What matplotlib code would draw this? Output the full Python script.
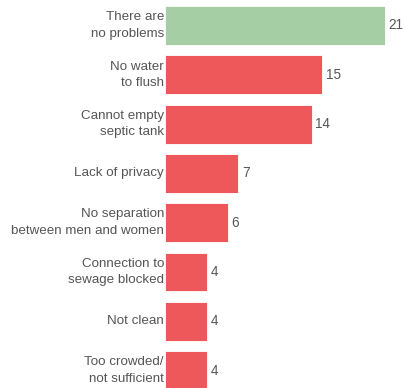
import matplotlib
matplotlib.use("Agg")
import matplotlib.pyplot as plt

categories = ["There are\nno problems", "No water\nto flush", "Cannot empty\nseptic tank",
              "Lack of privacy", "No separation\nbetween men and women",
              "Connection to\nsewage blocked", "Not clean", "Too crowded/\nnot sufficient"]
values = [21, 15, 14, 7, 6, 4, 4, 4]
colors = ["#a5cea4"] + ["#ee585a"] * 7

plt.rcParams['font.family'] = ['Liberation Sans', 'DejaVu Sans']
W, H = 405, 388
fig = plt.figure(figsize=(W / 100, H / 100), dpi=100)
ax = fig.add_axes([165 / W, 0, 1 - 165 / W, 1])

ypos = list(range(len(values)))
ax.barh(ypos, values, height=0.79, color=colors, edgecolor="#ffffff", linewidth=0.6)
ax.set_xlim(0, 240 / 10.48)
ax.set_ylim(7.353, -0.517)

for y, v, lab in zip(ypos, values, categories):
    ax.text(v + 0.35, y, str(v), va="center", ha="left", fontsize=9.8, color="#555555")
    ax.text(-0.1, y, lab, va="center", ha="right", fontsize=9.6, color="#555555",
            linespacing=1.5, transform=ax.transData, clip_on=False)

ax.set_xticks([])
ax.set_yticks([])
for s in ax.spines.values():
    s.set_visible(False)

fig.savefig("out.png", dpi=100)
